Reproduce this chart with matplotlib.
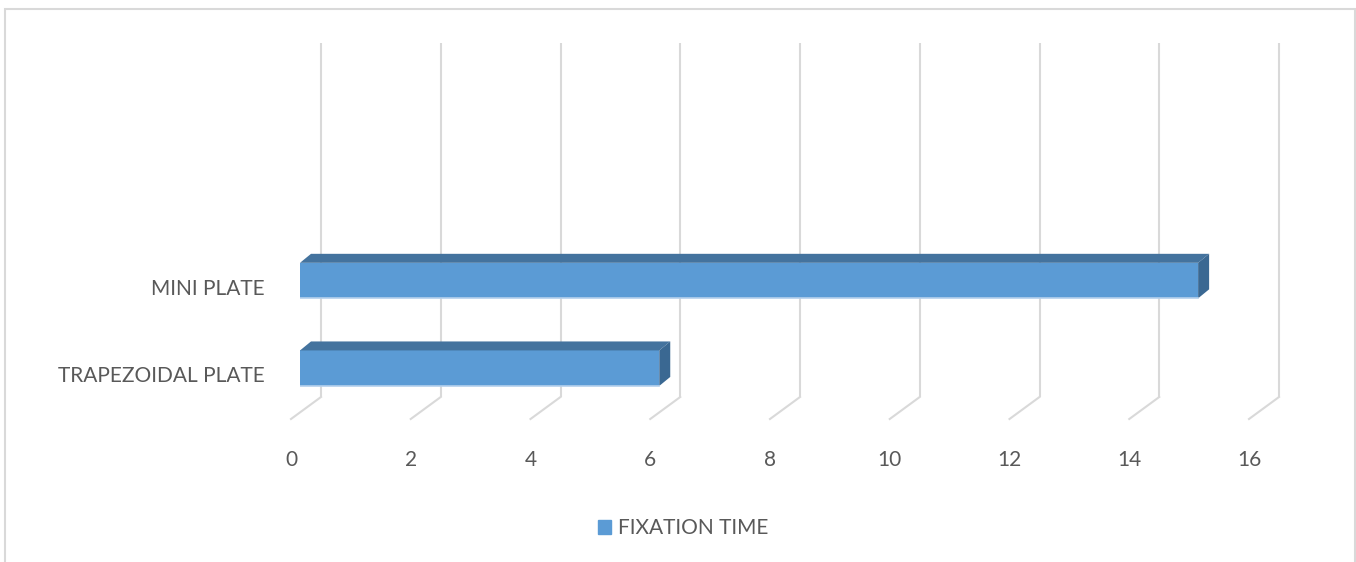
import matplotlib
matplotlib.use("Agg")
import matplotlib.pyplot as plt
from matplotlib.patches import Polygon, Rectangle, Patch
from matplotlib.transforms import ScaledTranslation

# data
categories = ["TRAPEZOIDAL PLATE", "MINI PLATE"]
fixation_time = [6, 15]
x_ticks = [0, 2, 4, 6, 8, 10, 12, 14, 16]
series_name = "FIXATION TIME"

W, H, DPI = 1356, 562, 100
TEXT = "#595959"
GRID = "#d9d9d9"
FRONT = "#5b9bd5"
TOP = "#44739e"
SIDE = "#3a6892"
plt.rcParams["font.family"] = ["Lato", "DejaVu Sans"]

fig = plt.figure(figsize=(W / DPI, H / DPI), dpi=DPI, facecolor="white")

# axes placed in the bar front plane
ax_l, ax_r, ax_b, ax_t = 300, 1258, 412, 58
ax = fig.add_axes([ax_l / W, 1 - ax_b / H, (ax_r - ax_l) / W, (ax_b - ax_t) / H])
ax.set_xlim(0, 16)
ax.set_ylim(-0.5, 3.54)
ax.axis("off")

PX_X = (ax_r - ax_l) / 16
PX_Y = (ax_b - ax_t) / 4.04


def shifted(dx, dy):
    return ax.transData + ScaledTranslation(dx / DPI, dy / DPI, fig.dpi_scale_trans)


y0, y1 = ax.get_ylim()
# back wall gridlines + floor lines
for v in x_ticks:
    ax.plot([v, v], [y0, y1], color=GRID, lw=1.5, transform=shifted(21, 15),
            solid_capstyle="butt", zorder=0, clip_on=False)
    ax.plot([v + 21 / PX_X, v - 9 / PX_X], [y0 + 15 / PX_Y, y0 - 7 / PX_Y],
            color=GRID, lw=1.5, zorder=0, clip_on=False)
    ax.text(v, y0, str(v), transform=shifted(-9, -48), ha="center", va="center",
            color=TEXT, fontsize=15)

# 3D bars
BAR_H = 0.405
DX, DY = 11 / PX_X, 9 / PX_Y
ypos = list(range(len(categories)))
ax.barh(ypos, fixation_time, height=BAR_H, color=FRONT, zorder=3, label=series_name)
for y, v in zip(ypos, fixation_time):
    top = y + BAR_H / 2
    bot = y - BAR_H / 2
    ax.add_patch(Polygon([(0, top), (v, top), (v + DX, top + DY), (DX, top + DY)],
                         closed=True, color=TOP, lw=0, zorder=3))
    ax.add_patch(Polygon([(v, bot), (v, top), (v + DX, top + DY), (v + DX, bot + DY)],
                         closed=True, color=SIDE, lw=0, zorder=3))
    ax.plot([0, v], [bot, bot], color="#b4d0ec", lw=1.2, zorder=4)
    ax.text(0, y, categories[y], transform=shifted(-35, -8), ha="right",
            va="center", color=TEXT, fontsize=15)

# legend
fig.legend(handles=[Patch(color=FRONT, label=series_name)], loc="center",
           bbox_to_anchor=(683 / W, 1 - 528 / H), frameon=False,
           handlelength=0.65, handleheight=0.65, handletextpad=0.3,
           fontsize=15, labelcolor=TEXT)

# chart border
fig.add_artist(Rectangle((5 / W, -0.05), (W - 6) / W, 1.05 - 9 / H,
                         transform=fig.transFigure, fill=False,
                         edgecolor=GRID, lw=1.5))

fig.savefig("out.png", dpi=DPI, facecolor="white")
